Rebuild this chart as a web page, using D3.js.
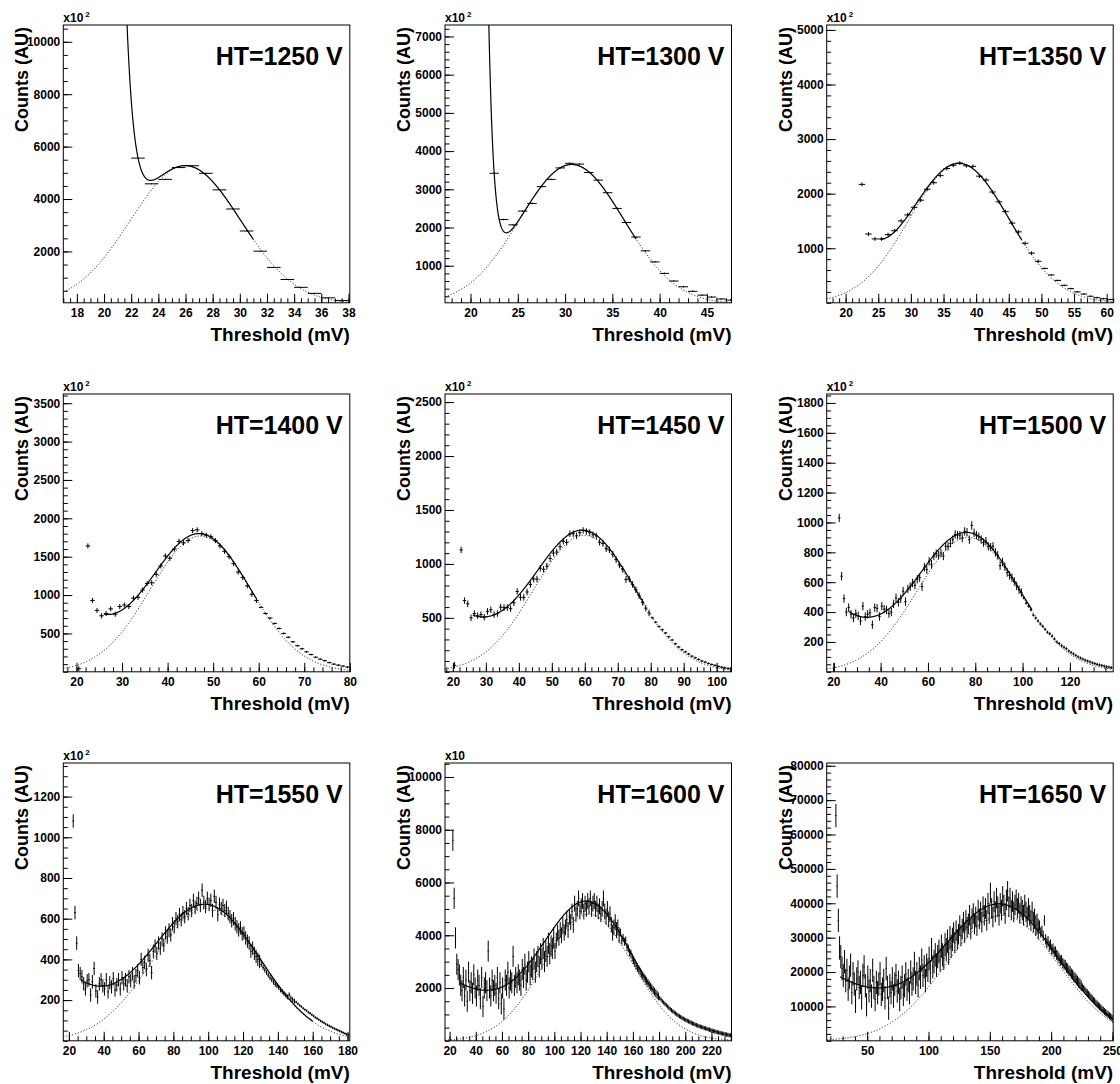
<!DOCTYPE html>
<html><head><meta charset="utf-8">
<script src="https://cdn.jsdelivr.net/npm/d3@7"></script>
<style>
body{margin:0;background:#fff;}
svg{display:block;font-family:"Liberation Sans",Arial,Helvetica,sans-serif;font-weight:bold;}
</style></head><body>
<svg id="c" width="1120" height="1084"></svg>
<script>
// ---- panel meta ----
const panelLabels = ["HT=1250 V","HT=1300 V","HT=1350 V","HT=1400 V","HT=1450 V","HT=1500 V","HT=1550 V","HT=1600 V","HT=1650 V"];
const xDomains = [[17,38.1],[17.3,47.6],[17.1,61],[17.1,80],[17.6,104.5],[17.2,138.3],[16.8,181.3],[16.5,235.3],[17,250.6]];
const yDomains = [[40,10640],[30,7300],[0,5090],[0,3620],[0,2575],[0,1860],[0,1365],[0,10530],[0,80800]];
const yExponent = ["2","2","2","2","2","2","2","1",""];
const xMajorStep = [2,5,5,10,10,20,20,20,50];
const xMinorStep = [0.5,1,1,2,2,5,5,5,10];
const yMajorStep = [2000,1000,1000,500,500,200,200,2000,10000];
const yMinorStep = [500,200,200,100,100,50,50,500,2000];

// ---- histogram contents (1 mV bins, first bin centre below) ----
const firstBin = [22.5,22.5,22.5,20.5,20.5,20.5,22.5,22.5,24.5];
const counts1250 = [5560,4580,4750,5200,5270,4980,4350,3620,2780,2010,1390,930,630,400,230,130];
const counts1300 = [3420,2210,2070,2430,2630,3070,3260,3560,3680,3660,3440,3240,2910,2500,2130,1750,1390,1100,800,600,450,330,230,180,130,100];
const counts1350 = [2170,1260,1170,1170,1250,1320,1500,1610,1750,1880,2080,2200,2330,2460,2520,2560,2510,2500,2320,2250,2030,1850,1670,1460,1300,1090,910,760,630,510,410,320,260,200,160,120,95,75,60];
const counts1400 = [40,null,1640,930,800,730,760,820,750,850,870,850,960,970,1065,1150,1160,1270,1380,1510,1480,1600,1700,1680,1710,1840,1850,1800,1780,1760,1710,1640,1570,1500,1410,1300,1230,1120,1010,930,840,760,700,630,565,500,450,390,340,300,260,225,190,165,145,120,100,87,74,61];
const counts1450 = [60,null,1130,660,630,500,540,520,530,505,560,575,530,540,600,595,595,585,640,745,690,690,740,810,860,860,960,950,980,1050,1100,1110,1160,1210,1200,1280,1280,1260,1290,1310,1300,1290,1270,1260,1200,1190,1140,1130,1090,1040,990,950,855,860,810,760,705,645,590,545,500,460,420,390,360,325,295,260,230,205,185,165,145,130,115,100,90,78,68,60,50,43,37,31];
const counts1500 = [30,null,1030,640,490,400,430,385,360,390,375,340,440,370,385,395,315,430,425,370,440,420,415,390,400,455,495,465,490,540,470,555,570,595,580,620,630,570,700,685,740,720,775,790,780,795,775,840,840,860,885,920,915,915,895,940,935,885,980,930,915,905,885,865,875,840,835,840,800,780,710,735,705,665,645,630,605,575,550,530,495,460,440,415,380,360,340,320,305,285,265,255,240,220,200,190,175,165,155,140,130,120,110,100,92,85,78,72,66,60,55,50,46,42,38,34,31,28];
const counts1550 = [1080,630,480,345,330,315,280,255,295,300,
 225,290,355,245,215,280,300,270,255,300,
 240,285,265,305,250,275,300,255,310,280,
 300,270,315,295,330,290,320,345,310,400,
 360,385,350,420,395,335,440,465,430,480,
 455,500,470,530,510,545,520,575,560,600,
 585,620,595,630,610,650,625,665,640,690,
 655,675,700,665,740,680,660,700,670,690,
 640,710,680,620,670,650,665,640,655,625,
 610,590,600,575,560,545,555,525,530,505,
 490,480,440,455,430,415,400,390,375,360,
 348,335,322,310,300,288,278,270,262,250,
 242,233,225,216,226,210,202,195,190,182,
 174,168,160,153,148,140,135,128,122,115,
 110,104,98,93,88,82,78,73,69,64,
 60,56,52,48,44,40,36,32,29];
const counts1600 = [7600,5400,3900,2900,2700,2500,2100,1900,2400,1700,
 2300,1500,2600,1900,2200,1800,2500,2000,1700,2300,
 2100,1600,2400,1300,2000,2200,1900,3400,2000,1700,
 2300,1900,2100,1800,2400,1600,2200,1400,2000,1200,
 2300,2100,2600,2000,2300,2200,3200,2100,2400,2200,
 2500,2300,2100,2700,2400,2900,2300,2600,3000,2500,
 2800,2700,3100,2600,3000,3200,2800,3300,3100,3500,
 3000,3400,3200,3700,3300,3600,3500,3900,3400,3800,
 4100,3900,4200,4000,4400,4100,4300,4600,4200,4700,
 4500,4900,4400,5200,4800,5000,5400,4900,5100,5300,
 4900,5200,5000,5300,5100,5400,5000,5200,5300,5000,
 5200,4900,5100,4800,5000,5400,4900,4700,5000,4600,
 4800,4400,4100,4300,4500,4200,4300,4000,4100,3800,
 3900,3750,3800,3550,3500,3350,3300,3150,3050,2950,
 2850,2780,2700,2620,2540,2470,2400,2330,2260,2190,
 2120,2050,1990,1920,1860,1800,1740,1680,1620,1560,
 1500,1450,1400,1350,1300,1250,1200,1160,1120,1080,
 1040,1000,965,930,900,870,840,810,785,760,
 735,710,685,660,640,615,595,575,555,535,
 522,504,486,468,452,436,420,400,385,370,
 355,340,325,312,298,285,272,260,248,236,
 225,214,204];
const counts1650 = [65500,45000,35000,27000,24500,21000,19000,23000,17500,20500,
 15000,18500,22000,14000,19500,16500,11500,18000,20000,15500,
 17000,12500,19000,21500,16000,10500,18500,14500,17500,13000,
 20500,15500,12000,17000,14000,16500,19500,13500,15000,17500,
 12500,21000,15500,9500,16000,14000,18000,13000,16500,19000,
 14500,17000,12000,15500,18500,13500,16000,19500,15000,17500,
 14000,20000,16500,18000,22500,17000,19500,16000,21000,18500,
 23500,19000,21500,17500,22000,20500,24000,20000,26500,21500,
 23000,25000,22000,24500,26000,23500,27500,25000,24000,28000,
 26500,29000,25500,30000,27500,29500,31500,28500,32000,29500,
 31000,33500,30500,32500,34500,31500,35000,33000,34000,36500,
 32500,35500,37000,34000,36000,33500,38000,35500,37500,34500,
 39000,36500,38500,35000,40000,37000,43000,38500,36000,40500,
 37500,41500,39000,36500,40000,38000,42000,39500,37000,41000,
 43500,39000,41500,38000,40500,37500,39500,41000,38500,40000,
 37000,39000,38000,36500,39500,37500,36000,38500,36500,35000,
 37500,34500,35500,33500,34000,32500,33500,31500,32000,30500,
 35000,29500,28500,29000,27500,28000,26500,26800,25800,26000,
 25000,24600,24000,23300,23500,22600,22200,22000,21300,21000,
 20400,20200,19500,19200,18600,18300,17800,17400,16900,16600,
 16000,15700,15200,14800,14300,14000,13500,13100,12700,12300,
 11800,11500,11000,10700,10300,9900,9600,9200,8900,8500,
 8200,7900,7600,7300,7000,6700,6400];

// error bar half-heights: value applies from the given x onward
const errFromX = [[0],[0],[0,50],[0,60],[0,80],[0,100],[0,130,150],[0,100,150,180],[0,120,190,225]];
const errValue = [[20],[20],[35,15],[33,12],[30,10],[28,10],[33,12,6],[400,300,150,80],[3400,3000,1500,1000]];

// ---- fit results: gaussian signal + exponential noise ----
const gaussAmp   = [5270,3650,2550,1770,1265,900,650,4800,36500];
const gaussMean  = [26.0,30.7,37.4,47.2,59.8,77,99,126,160];
const gaussSigma = [4.05,5.5,7.6,11.0,15.2,21.4,31,34,46];
const noiseAmp   = [1950,2220,1200,749,527,420,300,2300,19340]; // at 22.5 mV
const noiseSlope = [1.7,1.85,0.35,0.129,0.0647,0.0468,0.035,0.015,0.01289];
const fitFrom    = [21.5,21.5,25.3,26,26,26.5,27,28,28];
const fitTo      = [31,37.5,47,59.5,78,104,160,175,250.6];

const allCounts = [counts1250,counts1300,counts1350,counts1400,counts1450,counts1500,counts1550,counts1600,counts1650];

const svg = d3.select("#c");
const colLeft=[63.3,445,826.7], rowTop=[25,394,763], FW=286.5, FH=277.8;

for(let i=0;i<9;i++){
  const col=i%3,row=Math.floor(i/3);
  const g=svg.append("g").attr("transform",`translate(${colLeft[col]},${rowTop[row]})`);
  const xd=xDomains[i], yd=yDomains[i];
  const x=d3.scaleLinear().domain(xd).range([0,FW]);
  const y=d3.scaleLinear().domain(yd).range([FH,0]);

  g.append("clipPath").attr("id","clip"+i).append("rect").attr("width",FW).attr("height",FH);
  const plot=g.append("g").attr("clip-path",`url(#clip${i})`);

  const errAt = xc => { let e=errValue[i][0]; errFromX[i].forEach((s,k)=>{ if(xc>=s) e=errValue[i][k]; }); return e; };
  const bins = allCounts[i].map((v,k)=>({xc:firstBin[i]+k, v})).filter(d=>d.v!=null);

  // fit curves
  const gauss = t => gaussAmp[i]*Math.exp(-0.5*Math.pow((t-gaussMean[i])/gaussSigma[i],2));
  const noise = t => noiseAmp[i]*Math.exp(-noiseSlope[i]*(t-22.5));
  const N=700;
  const fullX = d3.range(N+1).map(k=>xd[0]+(xd[1]-xd[0])*k/N);
  const fitX = d3.range(N+1).map(k=>fitFrom[i]+(fitTo[i]-fitFrom[i])*k/N);
  const line = d3.line().x(d=>x(d[0])).y(d=>Math.max(-50,y(d[1])));
  plot.append("path").attr("d",line(fullX.map(t=>[t,gauss(t)])))
    .attr("fill","none").attr("stroke","#000").attr("stroke-width",1).attr("stroke-dasharray","1,2");

  // data: bin-width line + vertical error bar
  plot.selectAll("line.h").data(bins).join("line").attr("class","h")
    .attr("x1",d=>x(d.xc-0.5)).attr("x2",d=>x(d.xc+0.5))
    .attr("y1",d=>y(d.v)).attr("y2",d=>y(d.v))
    .attr("stroke","#000").attr("stroke-width",1);
  plot.selectAll("line.v").data(bins).join("line").attr("class","v")
    .attr("x1",d=>x(d.xc)).attr("x2",d=>x(d.xc))
    .attr("y1",d=>y(d.v-errAt(d.xc))).attr("y2",d=>y(d.v+errAt(d.xc)))
    .attr("stroke","#000").attr("stroke-width",1);

  plot.append("path").attr("d",line(fitX.map(t=>[t,gauss(t)+noise(t)])))
    .attr("fill","none").attr("stroke","#000").attr("stroke-width",1.2);

  // axes (ticks inward, ROOT style)
  const rng=(a,b,s)=>d3.range(Math.ceil(a/s-1e-9)*s,b+1e-9,s);
  const ax=g.append("g").attr("transform",`translate(0,${FH})`);
  ax.call(d3.axisBottom(x).tickValues(rng(xd[0],xd[1],xMinorStep[i])).tickSize(-4.5).tickFormat(""));
  ax.select(".domain").remove();
  const ax2=g.append("g").attr("transform",`translate(0,${FH})`);
  ax2.call(d3.axisBottom(x).tickValues(rng(xd[0],xd[1],xMajorStep[i])).tickSize(-9).tickPadding(6).tickFormat(d3.format("d")));
  ax2.select(".domain").remove();
  const ay=g.append("g");
  ay.call(d3.axisLeft(y).tickValues(rng(yd[0],yd[1],yMinorStep[i])).tickSize(-4.5).tickFormat(""));
  ay.select(".domain").remove();
  const ay2=g.append("g");
  ay2.call(d3.axisLeft(y).tickValues(rng(Math.max(yd[0],1),yd[1],yMajorStep[i])).tickSize(-9).tickPadding(3).tickFormat(d3.format("d")));
  ay2.select(".domain").remove();
  g.selectAll(".tick line").attr("stroke","#000");
  g.selectAll(".tick text").attr("font-size",12).attr("font-weight","bold").attr("font-family","'Liberation Sans',Arial,sans-serif").attr("fill","#000");

  g.append("rect").attr("width",FW).attr("height",FH).attr("fill","none").attr("stroke","#000").attr("stroke-width",1);

  if(yExponent[i]){
    const t=g.append("text").attr("x",0).attr("y",-3).attr("font-size",12).text("x10");
    if(yExponent[i]!=="1") t.append("tspan").attr("dy",-5).attr("dx",2).attr("font-size",8).text(yExponent[i]);
  }
  g.append("text").attr("x",FW-7).attr("y",40).attr("text-anchor","end").attr("font-size",25).text(panelLabels[i]);
  g.append("text").attr("x",FW).attr("y",FH+38).attr("text-anchor","end").attr("font-size",19).text("Threshold (mV)");
  g.append("text").attr("transform","translate(-35,2) rotate(-90)").attr("text-anchor","end").attr("font-size",18).text("Counts (AU)");
}
</script>
</body></html>
